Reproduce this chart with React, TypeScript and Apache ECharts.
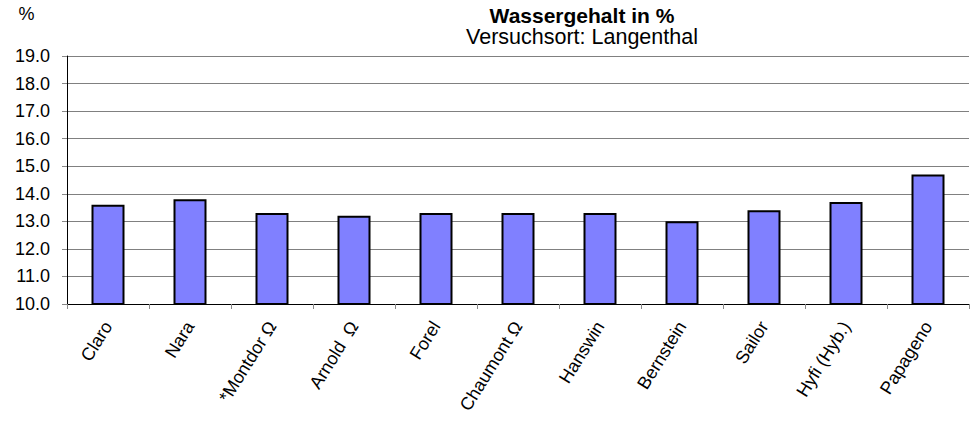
import React, { useEffect, useRef } from "react";
import * as echarts from "echarts";

const categories = ["Claro", "Nara", "*Montdor Ω", "Arnold  Ω", "Forel", "Chaumont Ω", "Hanswin", "Bernstein", "Sailor", "Hyfi (Hyb.)", "Papageno"];
const values = [13.6, 13.8, 13.3, 13.2, 13.3, 13.3, 13.3, 13.0, 13.4, 13.7, 14.7];
const titleText = "Wassergehalt in %";
const subtitleText = "Versuchsort: Langenthal";
const unitText = "%";

const FONT = "'Liberation Sans', Arial, sans-serif";

export default function App() {
  const ref = useRef<HTMLDivElement>(null);
  useEffect(() => {
    const chart = echarts.init(ref.current!, null, { renderer: "svg" });
    chart.setOption({
      animation: false,
      backgroundColor: "#ffffff",
      textStyle: { fontFamily: FONT },
      grid: { left: 67, right: 7, top: 56, bottom: 118, containLabel: false },
      graphic: [
        { type: "text", x: 26.5, y: 14, style: { text: unitText, font: `18px ${FONT}`, fill: "#000", textAlign: "center", textVerticalAlign: "middle" } },
        { type: "text", x: 582, y: 15, style: { text: titleText, font: `bold 21px ${FONT}`, fill: "#000", textAlign: "center", textVerticalAlign: "middle" } },
        { type: "text", x: 582, y: 37, style: { text: subtitleText, font: `21.5px ${FONT}`, fill: "#000", textAlign: "center", textVerticalAlign: "middle" } },
      ],
      xAxis: {
        type: "category",
        data: categories,
        axisLine: { lineStyle: { color: "#000", width: 1 } },
        axisTick: { show: true, alignWithLabel: false, length: 5, lineStyle: { color: "#888" } },
        axisLabel: { rotate: 58, color: "#000", fontSize: 18, fontFamily: FONT, margin: 19, interval: 0 },
      },
      yAxis: {
        type: "value",
        min: 10,
        max: 19,
        interval: 1,
        axisLine: { show: true, lineStyle: { color: "#000", width: 1 } },
        axisTick: { show: true, length: 5, lineStyle: { color: "#888" } },
        axisLabel: { color: "#000", fontSize: 18, fontFamily: FONT, margin: 17, formatter: (v: number) => v.toFixed(1) },
        splitLine: { show: true, lineStyle: { color: "#808080", width: 1 } },
      },
      series: [
        {
          type: "bar",
          data: values,
          barWidth: 33,
          itemStyle: { color: "#8080FF", borderColor: "#000", borderWidth: 2 },
        },
      ],
    });
    return () => chart.dispose();
  }, []);
  return <div ref={ref} style={{ width: 976, height: 422, position: "absolute", left: 0, top: 0 }} />;
}
